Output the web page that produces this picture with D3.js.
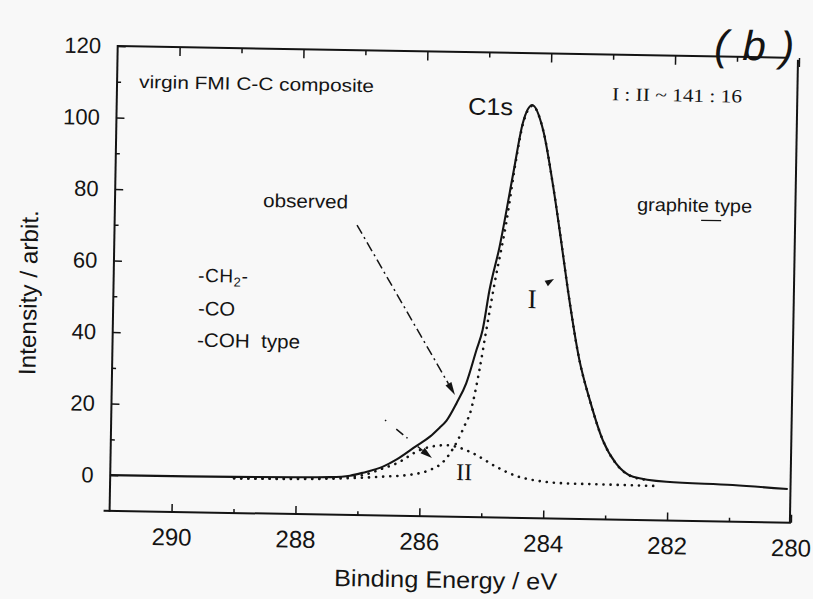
<!DOCTYPE html>
<html>
<head>
<meta charset="utf-8">
<script src="https://cdn.jsdelivr.net/npm/d3@7"></script>
<style>
  html, body { margin: 0; padding: 0; background: #f8f8f8; }
  svg { display: block; }
  .sans { font-family: "Liberation Sans", Arial, Helvetica, sans-serif; fill: #141414; }
  .serif { font-family: "Liberation Serif", "Times New Roman", serif; fill: #141414; }
</style>
</head>
<body>
<svg id="chart" width="813" height="599"></svg>
<script>
// C1s XPS spectrum of the virgin FMI C-C composite with its two fitted components.

// Observed envelope: binding energy (eV) and intensity (arb.)
const observedBE  = [291.0, 290.0, 289.0, 288.0, 287.45, 287.13, 286.92, 286.6, 286.38, 286.07,
                     285.85, 285.7, 285.59, 285.43, 285.28, 285.125, 285.03, 284.93, 284.78, 284.58,
                     284.44, 284.29, 284.11, 283.94, 283.79, 283.665, 283.46, 283.28, 283.06, 282.84,
                     282.56, 282.02, 280.95, 280.06];
const observedInt = [0.0, 0.0, 0.1, 0.3, 0.5, 1.0, 1.9, 3.7, 5.8, 9.6,
                     12.3, 14.8, 16.8, 21.8, 27.4, 36.7, 42.4, 53.6, 65.7, 86.3,
                     100.4, 105.5, 98.6, 83.7, 67.9, 54.0, 34.5, 23.3, 12.2, 5.75,
                     2.1, 0.84, 0.25, -0.6];

// Component I (graphite type)
const peakIBE  = [289.0, 288.0, 287.4, 286.65, 286.11, 285.84, 285.63, 285.47, 285.37, 285.29,
                  285.21, 285.07, 284.97, 284.85, 284.68, 284.53, 284.44, 284.29, 284.11, 283.94,
                  283.79, 283.665, 283.46, 283.28, 283.06, 282.84, 282.56, 282.3];
const peakIInt = [-0.3, -0.2, 0.1, 0.84, 1.7, 3.0, 5.3, 9.2, 12.5, 15.7,
                  19.0, 31.2, 42.4, 55.5, 72.3, 91.0, 100.0, 105.3, 98.6, 83.7,
                  67.9, 54.0, 34.5, 23.3, 12.2, 5.7, 2.0, 1.2];

// Component II (-CH2- / -CO / -COH type)
const peakIIBE  = [289.0, 288.0, 287.45, 287.13, 286.92, 286.6, 286.38, 286.01, 285.74, 285.58,
                   285.42, 285.15, 284.77, 284.44, 284.18, 283.64, 283.1, 282.13];
const peakIIInt = [-0.3, 0.0, 0.3, 0.7, 1.24, 3.2, 4.67, 8.5, 9.8, 10.0,
                   9.6, 7.84, 4.2, 1.7, 0.7, -0.1, -0.2, -0.4];

// Axis ticks
const xTicks      = [290, 288, 286, 284, 282, 280];
const xMinorTicks = [289, 287, 285, 283, 281];
const yTicks      = [0, 20, 40, 60, 80, 100, 120];
const yMinorTicks = [10, 30, 50, 70, 90, 110];

const ink = "#141414";
const svg = d3.select("#chart");
svg.append("rect").attr("width", 813).attr("height", 599).attr("fill", "#f8f8f8");

// the printed page sits slightly skewed
const g = svg.append("g").attr("transform", "rotate(1, 453, 284)");

const x = d3.scaleLinear().domain([291, 280]).range([113.6, 795]);
const y = d3.scaleLinear().domain([-10, 120]).range([516.8, 51.9]);

// ---- frame ----
const frame = g.append("g").attr("stroke", ink).attr("stroke-width", 2).attr("fill", "none");
frame.append("line").attr("x1", x(291)).attr("x2", x(291)).attr("y1", y(120) - 1).attr("y2", y(-10) + 1);
frame.append("line").attr("x1", x(291) - 6).attr("x2", x(280)).attr("y1", y(-10)).attr("y2", y(-10));
frame.append("line").attr("x1", x(291)).attr("x2", 782).attr("y1", y(120)).attr("y2", y(120));
frame.append("line").attr("x1", 794).attr("x2", 794).attr("y1", y(120) + 2).attr("y2", y(-10));

// ---- axes ----
function styleAxis(sel, size) {
  sel.select(".domain").remove();
  sel.selectAll(".tick line").attr("stroke", ink).attr("stroke-width", 1.5);
  sel.selectAll(".tick text").attr("class", "sans").attr("fill", ink).style("font-size", size + "px");
}

g.append("g").attr("transform", `translate(0,${y(-10)})`)
  .call(d3.axisBottom(x).tickValues(xTicks).tickSize(-8).tickPadding(16.5).tickFormat(d3.format("d")))
  .call(s => styleAxis(s, 24));
g.append("g").attr("transform", `translate(0,${y(-10)})`)
  .call(d3.axisBottom(x).tickValues(xMinorTicks).tickSize(-4).tickFormat(""))
  .call(s => styleAxis(s, 24));
g.append("g").attr("transform", `translate(0,${y(120)})`)
  .call(d3.axisTop(x).tickValues(xTicks).tickSize(-9).tickFormat(""))
  .call(s => styleAxis(s, 24));
g.append("g").attr("transform", `translate(0,${y(120)})`)
  .call(d3.axisTop(x).tickValues(xMinorTicks).tickSize(-5).tickFormat(""))
  .call(s => styleAxis(s, 24));
g.append("g").attr("transform", `translate(${x(291)},0)`)
  .call(d3.axisLeft(y).tickValues(yTicks).tickSize(-8).tickPadding(16.6).tickFormat(d3.format("d")))
  .call(s => styleAxis(s, 22));
g.append("g").attr("transform", `translate(${x(291)},0)`)
  .call(d3.axisLeft(y).tickValues(yMinorTicks).tickSize(-4).tickFormat(""))
  .call(s => styleAxis(s, 22));

// ---- axis titles ----
g.append("text").attr("class", "sans")
  .attr("x", 450.8).attr("y", 588).attr("text-anchor", "middle")
  .style("font-size", "23.5px").attr("textLength", 223).attr("lengthAdjust", "spacingAndGlyphs")
  .text("Binding Energy / eV");
g.append("text").attr("class", "sans")
  .attr("transform", "translate(37,300) rotate(-90)").attr("text-anchor", "middle")
  .style("font-size", "24px").attr("textLength", 165).attr("lengthAdjust", "spacingAndGlyphs")
  .text("Intensity / arbit.");

// ---- curves ----
const line = d3.line().x(d => x(d[0])).y(d => y(d[1])).curve(d3.curveMonotoneX);
const dotted = (be, val) => g.append("path")
  .attr("d", line(d3.zip(be, val)))
  .attr("fill", "none").attr("stroke", ink).attr("stroke-width", 2.6)
  .attr("stroke-linecap", "round").attr("stroke-dasharray", "0.1 7");
dotted(peakIIBE, peakIIInt);
dotted(peakIBE, peakIInt);
g.append("path")
  .attr("d", line(d3.zip(observedBE, observedInt)))
  .attr("fill", "none").attr("stroke", ink).attr("stroke-width", 2.1);

// ---- annotation arrows ----
function arrow(x1, y1, x2, y2, dash, headLen, headHalf) {
  const dx = x2 - x1, dy = y2 - y1, L = Math.hypot(dx, dy);
  const ux = dx / L, uy = dy / L;
  const bx = x2 - ux * headLen, by = y2 - uy * headLen;
  if (dash) {
    g.append("line").attr("x1", x1).attr("y1", y1).attr("x2", bx).attr("y2", by)
      .attr("stroke", ink).attr("stroke-width", 1.5).attr("stroke-dasharray", dash);
  }
  g.append("path")
    .attr("d", `M${x2},${y2}L${bx - uy * headHalf},${by + ux * headHalf}L${bx + uy * headHalf},${by - ux * headHalf}Z`)
    .attr("fill", ink);
}
arrow(356, 226.7, 456.9, 395, "10 4 2 4", 13, 3.4);
arrow(387.4, 421.2, 435, 458.4, "1.5 13 9 4", 12, 3.4);
arrow(544.5, 283, 553.9, 277.2, null, 9, 3.2);

// ---- labels ----
function label(cls, tx, ty, size, text, len, anchor, adjust) {
  const t = g.append("text").attr("class", cls).attr("x", tx).attr("y", ty)
    .style("font-size", size + "px").style("white-space", "pre")
    .attr("text-anchor", anchor || "start").text(text);
  if (len) t.attr("textLength", len).attr("lengthAdjust", adjust || "spacingAndGlyphs");
  return t;
}
label("sans", 135.6, 93.5, 18, "virgin FMI C-C composite", 235);
label("sans", 465, 114.2, 24, "C1s", 45);
label("serif", 608.7, 97.5, 18.5, "I : II ~ 141 : 16", 130);
label("sans", 261.7, 210.3, 19, "observed", 85);
label("sans", 635.7, 207.5, 18.5, "graphite type", 115);
g.append("line").attr("x1", 700).attr("x2", 720).attr("y1", 216).attr("y2", 216)
  .attr("stroke", ink).attr("stroke-width", 1.2);

const ch2 = g.append("text").attr("class", "sans").attr("x", 198).attr("y", 286.4)
  .style("font-size", "19px").style("letter-spacing", "0.6px");
ch2.append("tspan").text("-CH");
ch2.append("tspan").attr("dy", 4).style("font-size", "13px").text("2");
ch2.append("tspan").attr("dy", -4).text("-");
label("sans", 198.5, 319.5, 19.5, "-CO", 37);
label("sans", 198.1, 351.2, 19.5, "-COH  type", 103);

label("serif", 532.4, 306.6, 27, "I", null, "middle");
label("serif", 467.4, 479.9, 24, "II", null, "middle");

// handwritten panel mark
label("sans", 750, 55, 42, "(b)", 80, "middle", "spacing")
  .style("font-weight", "normal").style("font-style", "italic");
</script>
</body>
</html>
